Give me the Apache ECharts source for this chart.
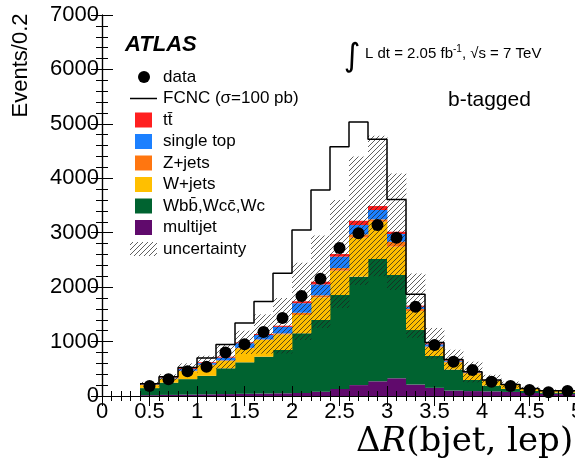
<!DOCTYPE html>
<html><head><meta charset="utf-8">
<script src="https://cdn.jsdelivr.net/npm/echarts@6/dist/echarts.min.js"></script>
<style>html,body{margin:0;padding:0;background:#fff}#c{width:575px;height:465px}</style>
</head><body><div id="c"></div>
<script>
// ---- data ----
const binEdges = [0.4, 0.6, 0.8, 1.0, 1.2, 1.4, 1.6, 1.8, 2.0, 2.2, 2.4, 2.6, 2.8, 3.0, 3.2, 3.4, 3.6, 3.8, 4.0, 4.2, 4.4, 4.6, 4.8, 5.0];
const dataCounts = [184, 306, 455, 539, 800, 949, 1175, 1435, 1837, 2155, 2718, 2988, 3141, 2908, 1640, 937, 630, 478, 263, 184, 110, 68, 92];
const multijet  = [15, 20, 25, 30, 35, 40, 45, 50, 55, 80, 130, 200, 270, 325, 210, 150, 100, 90, 85, 75, 55, 40, 35];
const wbb       = [130, 225, 285, 340, 474, 579, 677, 795, 1097, 1316, 1725, 1992, 2247, 1898, 1002, 585, 385, 204, 105, 54, 37, 21, 25];
const wjets     = [55, 73, 145, 195, 134, 257, 307, 285, 336, 417, 447, 718, 685, 520, 348, 159, 130, 123, 86, 73, 37, 31, 28];
const zjets     = [5, 5, 10, 10, 12, 9, 11, 20, 42, 37, 48, 60, 44, 92, 40, 16, 15, 8, 4, 3, 2, 1, 1];
const singleTop = [8, 12, 30, 30, 50, 85, 80, 120, 175, 200, 210, 171, 171, 141, 40, 40, 20, 10, 5, 3, 2, 1, 2];
const ttbar     = [5, 8, 17, 15, 17, 16, 19, 21, 35, 50, 48, 79, 73, 42, 20, 18, 11, 5, 5, 2, 2, 1, 1];
const fcnc      = [225, 355, 525, 700, 945, 1340, 1735, 2255, 3050, 3785, 4580, 5035, 4715, 3610, 1870, 985, 670, 445, 293, 212, 137, 97, 94];
const uncUp     = [260, 400, 600, 740, 945, 1200, 1500, 1800, 2450, 2950, 3600, 4400, 4780, 4090, 2250, 1250, 850, 630, 390, 265, 170, 120, 115];
const uncDown   = [176, 286, 424, 500, 500, 772, 778, 782, 1030, 1250, 1616, 2040, 2200, 1946, 1070, 686, 472, 250, 190, 155, 100, 70, 69];
const xTickLabels = ['0', '0.5', '1', '1.5', '2', '2.5', '3', '3.5', '4', '4.5', '5'];
const yTickLabels = ['0', '1000', '2000', '3000', '4000', '5000', '6000', '7000'];

const FONT = 'Liberation Sans, Arial, Helvetica, sans-serif';

// hatch pattern
function makeHatch() {
  const c = document.createElement('canvas');
  const w = 5, h = 5;
  c.width = w; c.height = h;
  const g = c.getContext('2d');
  g.strokeStyle = 'rgba(30,30,30,0.7)';
  g.lineWidth = 1;
  for (let k = -1; k <= 1; k++) {
    g.beginPath();
    g.moveTo(-w + k * w, 2 * h);
    g.lineTo(2 * w + k * w, -h);
    g.stroke();
  }
  return c;
}
const hatch = makeHatch();
const hatchFill = { image: hatch, repeat: 'repeat' };

function rectItem(fill) {
  return function (params, api) {
    const p0 = api.coord([api.value(0), api.value(3)]);
    const p1 = api.coord([api.value(1), api.value(2)]);
    return {
      type: 'rect',
      shape: { x: p0[0], y: p0[1], width: p1[0] - p0[0] + 0.4, height: p1[1] - p0[1] },
      style: { fill: fill, stroke: null }
    };
  };
}

const nb = dataCounts.length;
const components = [
  { name: 'multijet', values: multijet, color: '#600a6c' },
  { name: 'Wbb', values: wbb, color: '#006330' },
  { name: 'W+jets', values: wjets, color: '#ffbf00' },
  { name: 'Z+jets', values: zjets, color: '#ff7610' },
  { name: 'single top', values: singleTop, color: '#1c80ff' },
  { name: 'ttbar', values: ttbar, color: '#ff1f1f' }
];
const base = new Array(nb).fill(0);
const stackSeries = components.map(c => {
  const d = c.values.map((v, i) => {
    const r = [binEdges[i], binEdges[i + 1], base[i], base[i] + v];
    base[i] += v;
    return r;
  });
  return { type: 'custom', name: c.name, renderItem: rectItem(c.color), data: d,
           encode: { x: [0, 1], y: [2, 3] }, z: 2, clip: true, silent: true };
});

const uncData = uncUp.map((v, i) => [binEdges[i], binEdges[i + 1], uncDown[i], v]);
const fcncData = binEdges.map((x, i) => [x, fcnc[Math.min(i, nb - 1)]]);
const pointData = dataCounts.map((v, i) => [(binEdges[i] + binEdges[i + 1]) / 2, v]);

const axisCommon = {
  axisLine: { show: true, lineStyle: { color: '#000', width: 1.2 } },
  splitLine: { show: false },
  z: 10
};

const legendRows = [77, 98.5, 120, 141.5, 163, 184.5, 206, 227.5, 249];
const legendTexts = ['data', 'FCNC (\u03c3=100 pb)', 't\u0074\u0304', 'single top', 'Z+jets', 'W+jets',
  'Wb\u0062\u0304,Wc\u0063\u0304,Wc', 'multijet', 'uncertainty'];
const legendColors = ['#ff1f1f', '#1c80ff', '#ff7610', '#ffbf00', '#006330', '#600a6c'];

const graphics = [];
graphics.push({ type: 'circle', shape: { cx: 144, cy: legendRows[0], r: 6 }, style: { fill: '#000' } });
graphics.push({ type: 'line', shape: { x1: 130, y1: legendRows[1], x2: 157, y2: legendRows[1] }, style: { stroke: '#000', lineWidth: 1.5 } });
legendColors.forEach((col, k) => {
  graphics.push({ type: 'rect', shape: { x: 135, y: legendRows[k + 2] - 7.5, width: 17, height: 15 }, style: { fill: col } });
});
graphics.push({ type: 'rect', shape: { x: 130, y: legendRows[8] - 7, width: 27, height: 14 }, style: { fill: hatchFill } });
legendTexts.forEach((t, k) => {
  graphics.push({ type: 'text', x: 163, y: legendRows[k], style: { text: t, font: '17px ' + FONT, fill: '#000', textAlign: 'left', textVerticalAlign: 'middle' } });
});
// ATLAS
graphics.push({ type: 'text', x: 125, y: 45.3, style: { text: 'ATLAS', font: 'italic bold 22px ' + FONT, fill: '#000', textAlign: 'left', textVerticalAlign: 'middle' } });
// luminosity
graphics.push({ type: 'text', x: 352, y: 58, style: { text: '\u222b', font: '32px DejaVu Sans, sans-serif', fill: '#000', textAlign: 'center', textVerticalAlign: 'middle' } });
graphics.push({ type: 'text', x: 365, y: 53.1, style: {
  text: '{a|L dt = 2.05 fb}{s|-1}{a|, \u221as = 7 TeV}',
  textVerticalAlign: 'middle', textAlign: 'left',
  rich: {
    a: { fontFamily: FONT, fontSize: 15, lineHeight: 17, fill: '#000', verticalAlign: 'bottom' },
    s: { fontFamily: FONT, fontSize: 10, lineHeight: 10, fill: '#000', verticalAlign: 'top' }
  } } });
// b-tagged
graphics.push({ type: 'text', x: 448, y: 100.6, style: { text: 'b-tagged', font: '21px ' + FONT, fill: '#000', textAlign: 'left', textVerticalAlign: 'middle' } });
// y title
graphics.push({ type: 'text', x: 20.5, y: 65.5, rotation: Math.PI / 2, style: { text: 'Events/0.2', font: '22px ' + FONT, fill: '#000', textAlign: 'center', textVerticalAlign: 'middle' } });
// x title
graphics.push({ type: 'text', x: 356, y: 442, style: {
  text: '{n|\u0394}{i|R}{n|(bjet, lep)}', textAlign: 'left', textVerticalAlign: 'middle',
  rich: {
    n: { fontFamily: 'DejaVu Serif, serif', fontSize: 34, fill: '#000' },
    i: { fontFamily: 'DejaVu Serif, serif', fontStyle: 'italic', fontSize: 34, fill: '#000' }
  } } });

const chart = echarts.init(document.getElementById('c'), null, { renderer: 'canvas' });
chart.setOption({
  animation: false,
  backgroundColor: '#fff',
  textStyle: { fontFamily: FONT },
  grid: { left: 102, right: -2, top: 15, bottom: 69, outerBoundsMode: 'none', containLabel: false },
  xAxis: [
    Object.assign({}, axisCommon, {
      type: 'value', min: 0, max: 5, interval: 0.5, position: 'bottom',
      axisTick: { show: true, inside: true, length: 10, lineStyle: { color: '#000' } },
      minorTick: { show: true, splitNumber: 5, length: 5, lineStyle: { color: '#000' } },
      axisLabel: { show: true, fontSize: 22, color: '#000', margin: 5, fontFamily: FONT,
                   formatter: v => xTickLabels[Math.round(v / 0.5)] }
    }),
    Object.assign({}, axisCommon, {
      type: 'value', min: 0, max: 5, interval: 0.5, position: 'top',
      axisTick: { show: true, inside: true, length: 10, lineStyle: { color: '#000' } },
      minorTick: { show: true, splitNumber: 5, length: 5, lineStyle: { color: '#000' } },
      axisLabel: { show: false }
    })
  ],
  yAxis: [
    Object.assign({}, axisCommon, {
      type: 'value', min: 0, max: 7000, interval: 1000, position: 'left',
      axisTick: { show: true, inside: true, length: 11, lineStyle: { color: '#000' } },
      minorTick: { show: true, splitNumber: 5, length: 6, lineStyle: { color: '#000' } },
      axisLabel: { show: true, fontSize: 22, color: '#000', margin: 3, fontFamily: FONT,
                   formatter: v => yTickLabels[Math.round(v / 1000)] }
    }),
    Object.assign({}, axisCommon, {
      type: 'value', min: 0, max: 7000, interval: 1000, position: 'right',
      axisTick: { show: true, inside: true, length: 11, lineStyle: { color: '#000' } },
      minorTick: { show: true, splitNumber: 5, length: 6, lineStyle: { color: '#000' } },
      axisLabel: { show: false }
    })
  ],
  series: stackSeries.concat([
    { type: 'custom', name: 'uncertainty', renderItem: rectItem(hatchFill), data: uncData,
      encode: { x: [0, 1], y: [2, 3] }, z: 3, clip: true, silent: true },
    { type: 'line', name: 'FCNC', data: fcncData, step: 'end', symbol: 'none', z: 4,
      lineStyle: { color: '#000', width: 1.5 }, silent: true, clip: true },
    { type: 'scatter', name: 'data', data: pointData, symbol: 'circle', symbolSize: 12, z: 5,
      itemStyle: { color: '#000', opacity: 1 }, silent: true }
  ]),
  graphic: { elements: graphics }
});
</script>
</body></html>
